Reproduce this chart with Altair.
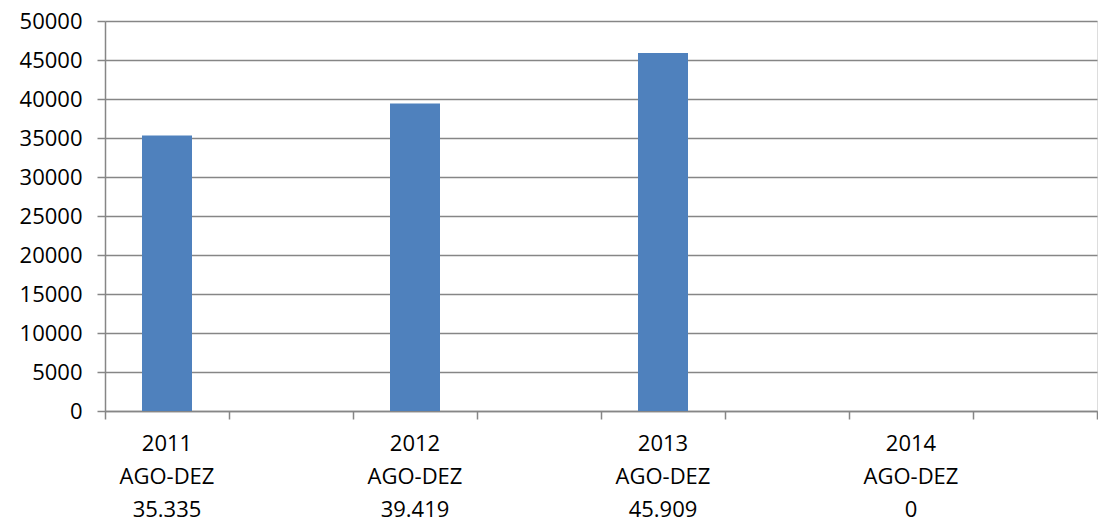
import altair as alt
import pandas as pd

# Annual totals for the AGO-DEZ period
years = ["2011", "2012", "2013", "2014"]
period = "AGO-DEZ"
totals = [35335, 39419, 45909, 0]
y_ticks = [0, 5000, 10000, 15000, 20000, 25000, 30000, 35000, 40000, 45000, 50000]


def pt_number(v):
    return f"{v:,}".replace(",", ".")


labels = [f"{yr}|{period}|{pt_number(v)}" for yr, v in zip(years, totals)]
df = pd.DataFrame({"cat": years, "rotulo": labels, "valor": totals})

# each labelled category is followed by an empty slot on the axis
domain = []
for yr in years:
    domain += [yr, f"{yr}b"]

FONT = "Open Sans"
GRID = "#868686"

x_enc = alt.X(
    "cat:N",
    scale=alt.Scale(domain=domain, paddingInner=0, paddingOuter=0),
    axis=alt.Axis(
        title=None,
        labels=False,
        tickBand="extent",
        tickSize=8,
        tickColor=GRID,
        tickWidth=1.5,
        domainColor=GRID,
        domainWidth=1.5,
        grid=False,
    ),
)

bars = alt.Chart(df).mark_bar(color="#4F81BD", size=50).encode(
    x=x_enc,
    y=alt.Y(
        "valor:Q",
        scale=alt.Scale(domain=[0, 50000], nice=False),
        axis=alt.Axis(
            title=None,
            values=y_ticks,
            format="d",
            tickSize=8,
            tickColor=GRID,
            tickWidth=1.5,
            domainColor=GRID,
            domainWidth=1.5,
            gridColor=GRID,
            gridWidth=1.5,
            gridOpacity=1,
            labelPadding=15,
            labelFontSize=22,
            labelFont=FONT,
            labelColor="black",
        ),
    ),
)

# category captions below the axis, three lines each
captions = alt.Chart(df).mark_text(
    baseline="top",
    align="center",
    lineBreak="|",
    lineHeight=33,
    fontSize=22,
    font=FONT,
    color="black",
).encode(
    x=alt.X("cat:N"),
    y=alt.value(413),
    text="rotulo:N",
)

chart = (
    alt.layer(bars, captions)
    .properties(
        width=992,
        height=390,
        autosize=alt.AutoSizeParams(type="none"),
        padding={"left": 105, "top": 21, "right": 1, "bottom": 113},
    )
    .configure_view(stroke=None)
    .configure(background="white")
)

chart.save("out.html", embed_options={"renderer": "svg", "actions": False})
